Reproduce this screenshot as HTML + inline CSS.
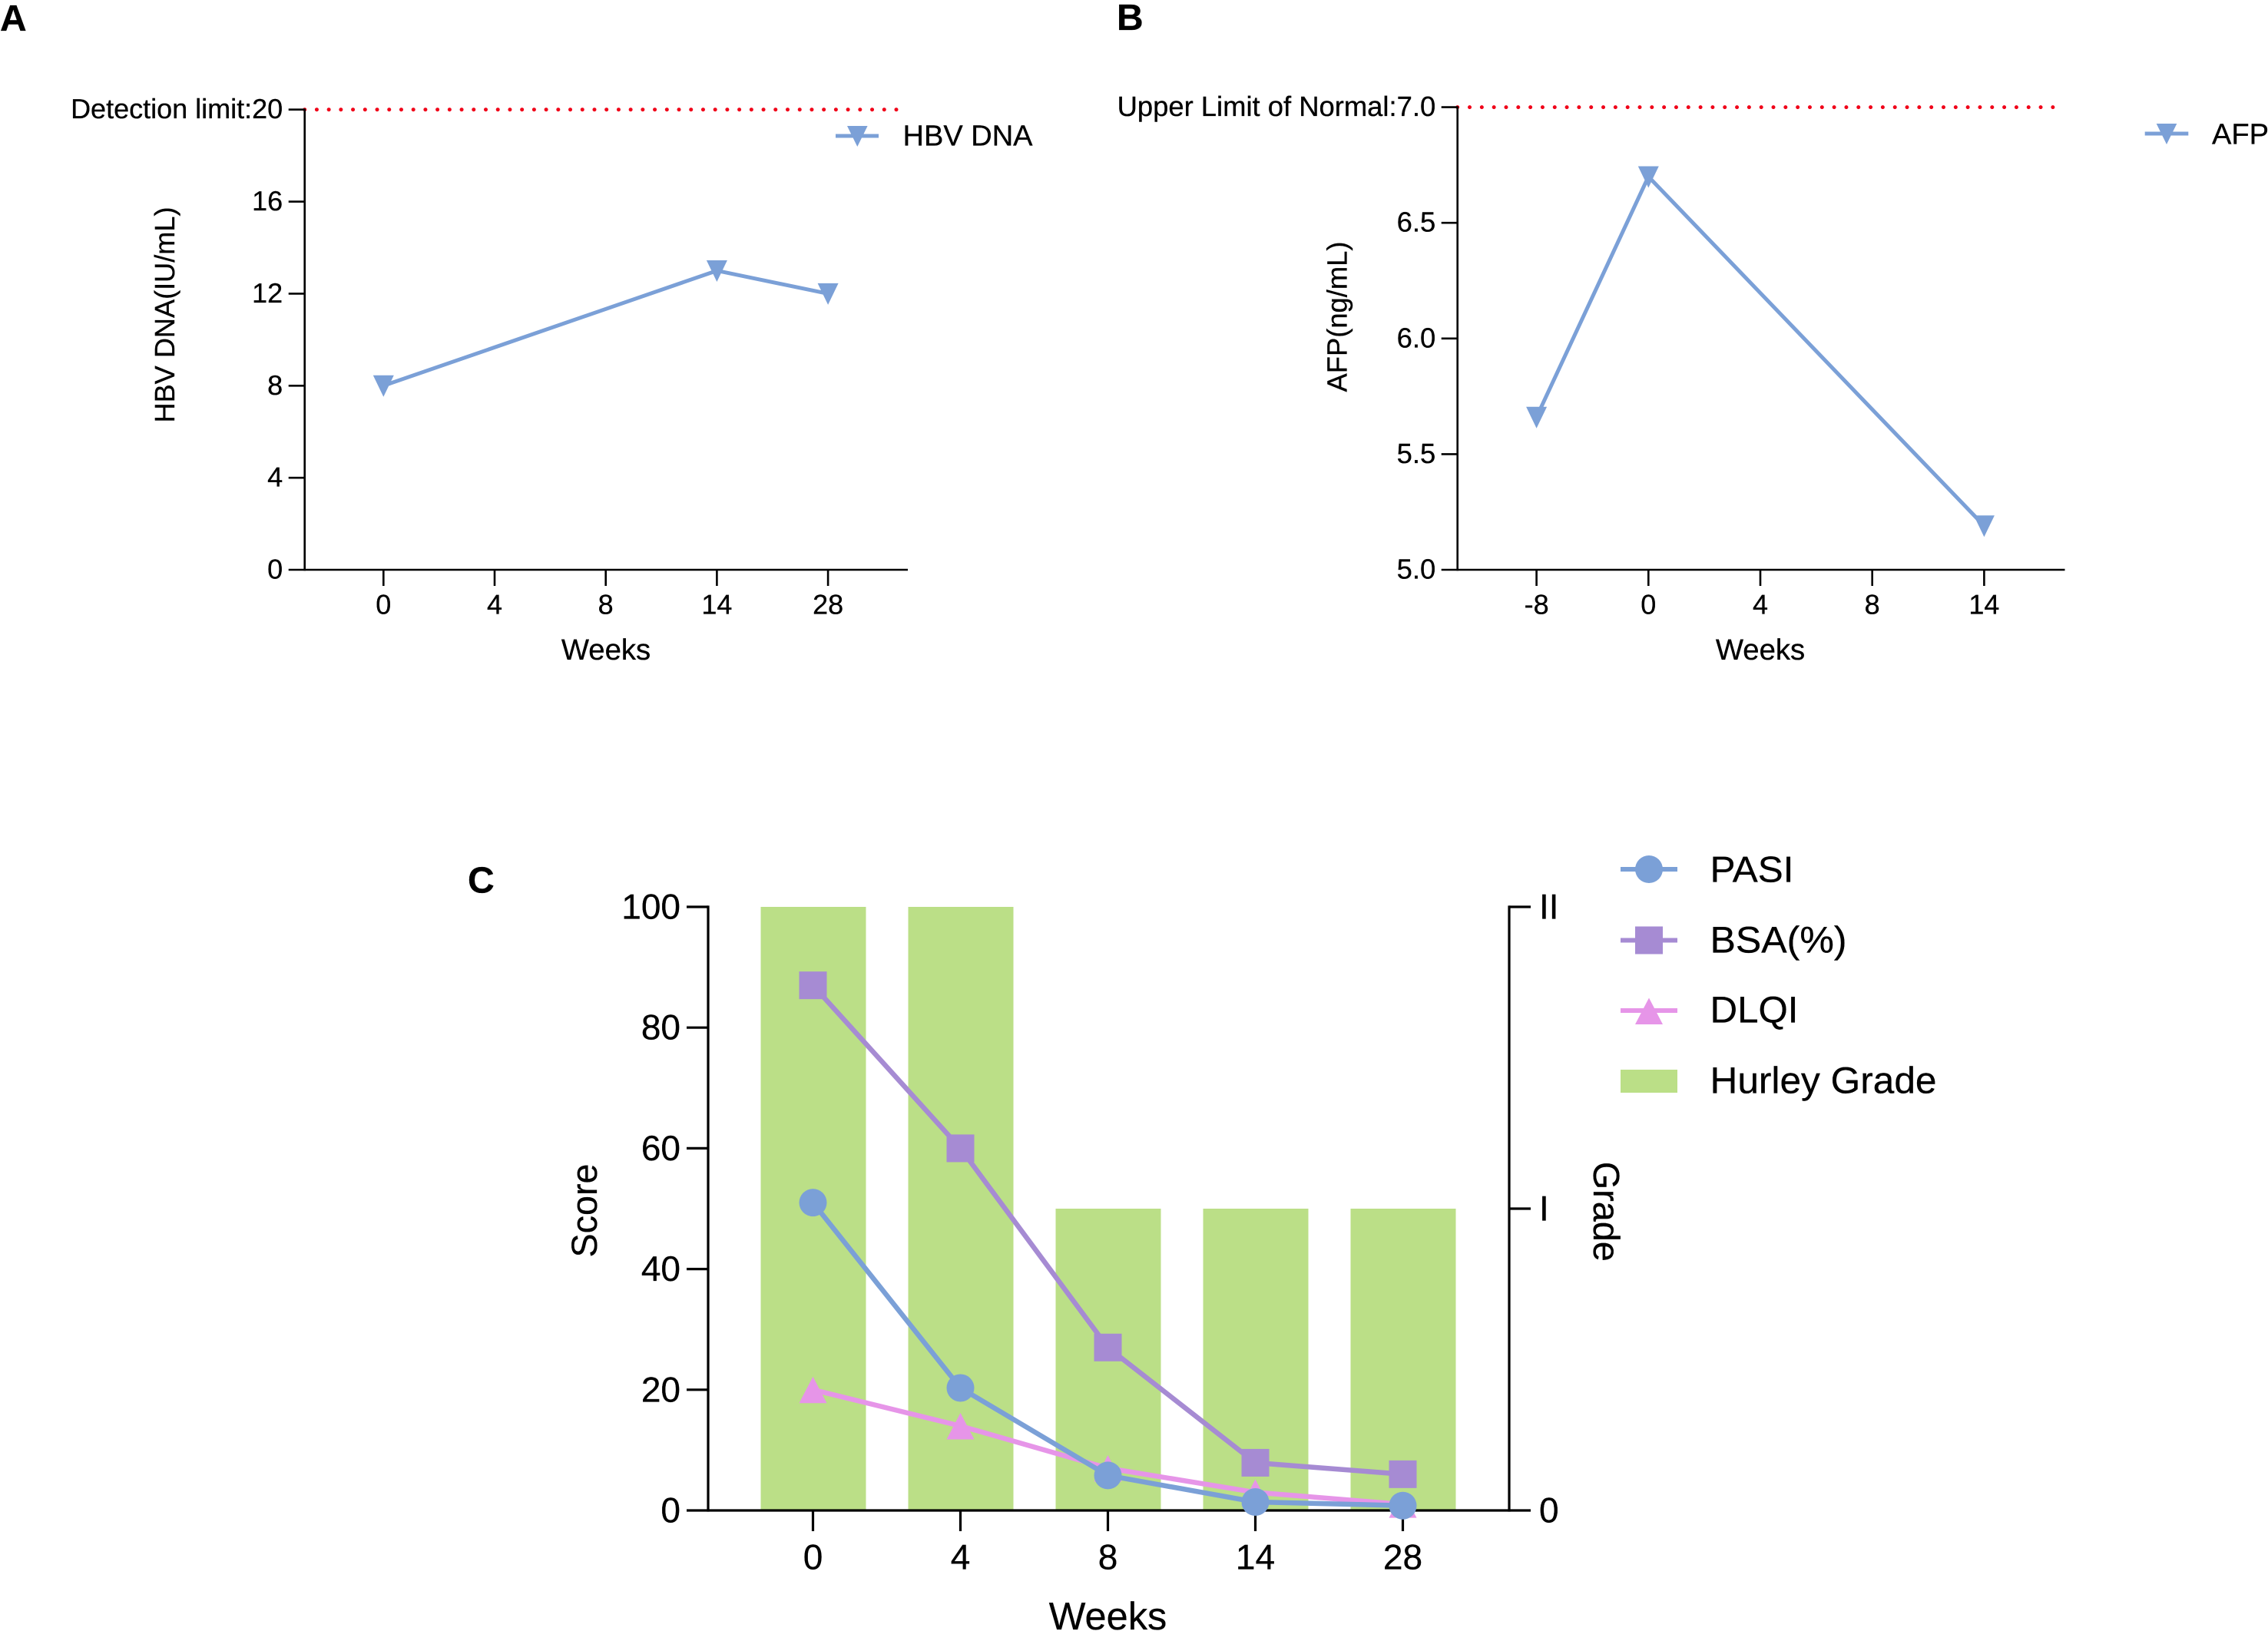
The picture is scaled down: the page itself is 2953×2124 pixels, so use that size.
<!DOCTYPE html>
<html lang="en">
<head>
<meta charset="utf-8">
<title>HBV DNA, AFP and psoriasis score charts</title>
<style>
html,body{margin:0;padding:0;background:#fff;width:2953px;height:2124px;overflow:hidden}
svg{display:block}
text{font-family:"Liberation Sans",Arial,sans-serif;fill:#000;stroke:#000;stroke-width:.3px;text-rendering:geometricPrecision}
.pl{font-weight:bold;font-size:48px}
</style>
</head>
<body>
<svg id="fig" xmlns="http://www.w3.org/2000/svg" width="2953" height="2124" viewBox="0 0 2953 2124">
  <rect width="2953" height="2124" fill="#fff"/>

  <g id="panelA">
    <text class="pl" x="0" y="40">A</text>
    <text transform="translate(227,550.5) rotate(-90)" font-size="36.5" textLength="281" lengthAdjust="spacingAndGlyphs">HBV DNA(IU/mL)</text>
    <text x="789" y="859" font-size="38.3" text-anchor="middle">Weeks</text>
    <g>
      <line x1="1088" x2="1144" y1="177" y2="177" stroke="#7BA0D7" stroke-width="5"/>
      <polygon points="1103,164 1129.6,164 1116.3,191" fill="#7BA0D7"/>
      <text x="1175.5" y="189.7" font-size="38" textLength="169" lengthAdjust="spacingAndGlyphs">HBV DNA</text>
    </g>
  </g>

  <g id="panelB">
    <text class="pl" x="1454" y="39">B</text>
    <text transform="translate(1753.3,510.5) rotate(-90)" font-size="36.5" textLength="196" lengthAdjust="spacingAndGlyphs">AFP(ng/mL)</text>
    <text x="2292" y="859" font-size="38.3" text-anchor="middle">Weeks</text>
    <g>
      <line x1="2792.7" x2="2849.3" y1="174" y2="174" stroke="#7BA0D7" stroke-width="5"/>
      <polygon points="2807.7,161 2834.3,161 2821,188" fill="#7BA0D7"/>
      <text x="2880" y="187.3" font-size="38" textLength="74" lengthAdjust="spacingAndGlyphs">AFP</text>
    </g>
  </g>

  <g id="panelC">
    <text class="pl" x="609" y="1162.5">C</text>
    <text transform="translate(776.8,1637.5) rotate(-90)" font-size="47" textLength="122" lengthAdjust="spacingAndGlyphs">Score</text>
    <text transform="translate(2075,1512.8) rotate(90)" font-size="48" textLength="130" lengthAdjust="spacingAndGlyphs">Grade</text>
    <text x="1442.5" y="2122" font-size="50.5" text-anchor="middle">Weeks</text>
    <g id="barsC"></g>
    <g id="axesC"></g>
    <g id="seriesC"></g>
    <g>
      <g>
        <line x1="2110" x2="2184" y1="1132" y2="1132" stroke="#7BA0D7" stroke-width="6"/>
        <circle cx="2147" cy="1132" r="18" fill="#7BA0D7"/>
        <text x="2226.5" y="1148.6" font-size="47.5" textLength="109" lengthAdjust="spacingAndGlyphs">PASI</text>
      </g>
      <g>
        <line x1="2110" x2="2184" y1="1224.5" y2="1224.5" stroke="#A68BD3" stroke-width="6"/>
        <rect x="2129" y="1206.5" width="36" height="36" fill="#A68BD3"/>
        <text x="2226.5" y="1240.5" font-size="48.5" textLength="178" lengthAdjust="spacingAndGlyphs">BSA(%)</text>
      </g>
      <g>
        <line x1="2110" x2="2184" y1="1316" y2="1316" stroke="#E695E8" stroke-width="6"/>
        <polygon points="2147,1299.5 2165,1334 2129,1334" fill="#E695E8"/>
        <text x="2226.5" y="1331.7" font-size="48.5" textLength="115" lengthAdjust="spacingAndGlyphs">DLQI</text>
      </g>
      <g>
        <rect x="2110" y="1393" width="74" height="30" fill="#BBDF87"/>
        <text x="2226.5" y="1423.5" font-size="48.5" textLength="295" lengthAdjust="spacingAndGlyphs">Hurley Grade</text>
      </g>
    </g>
  </g>
</svg>

<script>
// Panel A data
const hbvWeeks = ['0', '4', '8', '14', '28'];
const hbvValues = [8, null, null, 13, 12];
const hbvTicks = [0, 4, 8, 12, 16, 20];
const hbvTickLabels = ['0', '4', '8', '12', '16', 'Detection limit:20'];
const hbvLimit = [20];

// Panel B data
const afpWeeks = ['-8', '0', '4', '8', '14'];
const afpValues = [5.66, 6.7, null, null, 5.19];
const afpTicks = [5.0, 5.5, 6.0, 6.5, 7.0];
const afpTickLabels = ['5.0', '5.5', '6.0', '6.5', 'Upper Limit of Normal:7.0'];
const afpLimit = [7.0];

// Panel C data
const scoreWeeks = ['0', '4', '8', '14', '28'];
const pasiValues = [51, 20.3, 5.8, 1.4, 0.8];
const bsaValues = [87, 60, 27, 7.9, 6];
const dlqiValues = [20, 14, 7, 3, 1];
const hurleyValues = [2, 2, 1, 1, 1];
const scoreTicks = [0, 20, 40, 60, 80, 100];
const scoreTickLabels = ['0', '20', '40', '60', '80', '100'];
const gradeTicks = [0, 1, 2];
const gradeTickLabels = ['0', 'I', 'II'];

const NS = 'http://www.w3.org/2000/svg';
const BLUE = '#7BA0D7', PURPLE = '#A68BD3', PINK = '#E695E8', GREEN = '#BBDF87';

function el(tag, attrs, parent, txt) {
  const n = document.createElementNS(NS, tag);
  for (const k in attrs) n.setAttribute(k, attrs[k]);
  if (txt !== undefined) n.textContent = txt;
  parent.appendChild(n);
  return n;
}
function linear(d0, d1, r0, r1) {
  return v => r0 + (v - d0) * (r1 - r0) / (d1 - d0);
}
function ordinal(r0, step) {
  return i => r0 + i * step;
}

function drawLinePanel(cfg) {
  const g = document.getElementById(cfg.group);
  const x = cfg.x, y = cfg.y;

  const ref = el('line', {x1: cfg.axisX, x2: cfg.limitEnd, y1: y(cfg.limit), y2: y(cfg.limit),
    stroke: '#F00018', 'stroke-width': 5, 'stroke-linecap': 'round', 'stroke-dasharray': '0 ' + cfg.dotGap}, g);
  
  

  const yAxis = el('line', {x1: cfg.axisX, x2: cfg.axisX, y1: y(cfg.limit) - 1.2, y2: cfg.axisY + 1.2, stroke: '#000', 'stroke-width': 2.6}, g);
  
  

  const xAxis = el('line', {x1: cfg.axisX, x2: cfg.axisEnd, y1: cfg.axisY, y2: cfg.axisY, stroke: '#000', 'stroke-width': 2.6}, g);
  
  

  cfg.ticks.forEach((v, i) => {
    const t = el('line', {x1: cfg.axisX - 21, x2: cfg.axisX, y1: y(v), y2: y(v), stroke: '#000', 'stroke-width': 2.6}, g);
    
    
    const l = el('text', {x: cfg.axisX - 28.5, y: y(v) + 11.5, 'font-size': cfg.tickFont, 'text-anchor': 'end'}, g, cfg.tickLabels[i]);
    
    
  });

  cfg.weeks.forEach((w, i) => {
    const t = el('line', {x1: x(i), x2: x(i), y1: cfg.axisY, y2: cfg.axisY + 21, stroke: '#000', 'stroke-width': 2.6}, g);
    
    
    const l = el('text', {x: x(i), y: 799.5, 'font-size': 36, 'text-anchor': 'middle'}, g, w);
    
    
  });

  const pts = [];
  cfg.values.forEach((v, i) => { if (v !== null) pts.push([x(i), y(v)]); });
  const line = el('polyline', {points: pts.map(p => p.join(',')).join(' '), fill: 'none', stroke: BLUE, 'stroke-width': 5}, g);
  
  

  pts.forEach(p => {
    const m = el('polygon', {points: (p[0] - 13.5) + ',' + (p[1] - 13.5) + ' ' + (p[0] + 13.5) + ',' + (p[1] - 13.5) + ' ' + p[0] + ',' + (p[1] + 14.5), fill: BLUE}, g);
    
    
  });
}

drawLinePanel({
  group: 'panelA',
  weeks: hbvWeeks, values: hbvValues, ticks: hbvTicks, tickLabels: hbvTickLabels, limit: hbvLimit[0],
  x: ordinal(499.3, 144.7), y: linear(0, 20, 742, 142.7),
  axisX: 396.7, axisY: 742, axisEnd: 1182, limitEnd: 1167, dotGap: 15.72, tickFont: 36
});

drawLinePanel({
  group: 'panelB',
  weeks: afpWeeks, values: afpValues, ticks: afpTicks, tickLabels: afpTickLabels, limit: afpLimit[0],
  x: ordinal(2000.6, 145.7), y: linear(5, 7, 742, 139.6),
  axisX: 1897.7, axisY: 742, axisEnd: 2688.5, limitEnd: 2673, dotGap: 15.82, tickFont: 36.4
});

// Panel C
const cx = ordinal(1058.5, 192);
const cy = linear(0, 100, 1967, 1181);
const cg = linear(0, 2, 1967, 1181);
const C_LEFT = 922, C_RIGHT = 1965, C_BASE = 1967, BAR_W = 137;

const barsC = document.getElementById('barsC');
hurleyValues.forEach((v, i) => {
  const b = el('rect', {x: cx(i) - BAR_W / 2 + 0.5, y: cg(v), width: BAR_W, height: C_BASE - cg(v), fill: GREEN}, barsC);
  
  
});

const axesC = document.getElementById('axesC');
const leftAxis = el('line', {x1: C_LEFT, x2: C_LEFT, y1: cy(100) - 1.6, y2: C_BASE + 1.6, stroke: '#000', 'stroke-width': 3.2}, axesC);


const rightAxis = el('line', {x1: C_RIGHT, x2: C_RIGHT, y1: cg(2) - 1.6, y2: C_BASE + 1.6, stroke: '#000', 'stroke-width': 3.2}, axesC);


const bottomAxis = el('line', {x1: C_LEFT, x2: C_RIGHT, y1: C_BASE, y2: C_BASE, stroke: '#000', 'stroke-width': 3.2}, axesC);



scoreTicks.forEach((v, i) => {
  const t = el('line', {x1: C_LEFT - 28, x2: C_LEFT, y1: cy(v), y2: cy(v), stroke: '#000', 'stroke-width': 3.2}, axesC);
  
  
  const l = el('text', {x: 886, y: cy(v) + 15.5, 'font-size': 46, 'text-anchor': 'end'}, axesC, scoreTickLabels[i]);
  
  
});

gradeTicks.forEach((v, i) => {
  const t = el('line', {x1: C_RIGHT, x2: C_RIGHT + 28, y1: cg(v), y2: cg(v), stroke: '#000', 'stroke-width': 3.2}, axesC);
  
  
  const l = el('text', {x: 2004, y: cg(v) + 15.5, 'font-size': 46}, axesC, gradeTickLabels[i]);
  
  
});

scoreWeeks.forEach((w, i) => {
  const t = el('line', {x1: cx(i), x2: cx(i), y1: C_BASE, y2: C_BASE + 27, stroke: '#000', 'stroke-width': 3.2}, axesC);
  
  
  const l = el('text', {x: cx(i), y: 2043.4, 'font-size': 46, 'text-anchor': 'middle'}, axesC, w);
  
  
});

const seriesC = document.getElementById('seriesC');

const bsaLine = el('polyline', {points: bsaValues.map((v, i) => cx(i) + ',' + cy(v)).join(' '), fill: 'none', stroke: PURPLE, 'stroke-width': 6.5}, seriesC);


bsaValues.forEach((v, i) => {
  const m = el('rect', {x: cx(i) - 18, y: cy(v) - 18, width: 36, height: 36, fill: PURPLE}, seriesC);
  
  
});

dlqiValues.forEach((v, i) => {
  const m = el('polygon', {points: cx(i) + ',' + (cy(v) - 17) + ' ' + (cx(i) + 18) + ',' + (cy(v) + 17.5) + ' ' + (cx(i) - 18) + ',' + (cy(v) + 17.5), fill: PINK}, seriesC);
  
  
});
const dlqiLine = el('polyline', {points: dlqiValues.map((v, i) => cx(i) + ',' + cy(v)).join(' '), fill: 'none', stroke: PINK, 'stroke-width': 6.5}, seriesC);



const pasiLine = el('polyline', {points: pasiValues.map((v, i) => cx(i) + ',' + cy(v)).join(' '), fill: 'none', stroke: BLUE, 'stroke-width': 6.5}, seriesC);


pasiValues.forEach((v, i) => {
  const m = el('circle', {cx: cx(i), cy: cy(v), r: 18, fill: BLUE}, seriesC);
  
  
});
</script>
</body>
</html>
